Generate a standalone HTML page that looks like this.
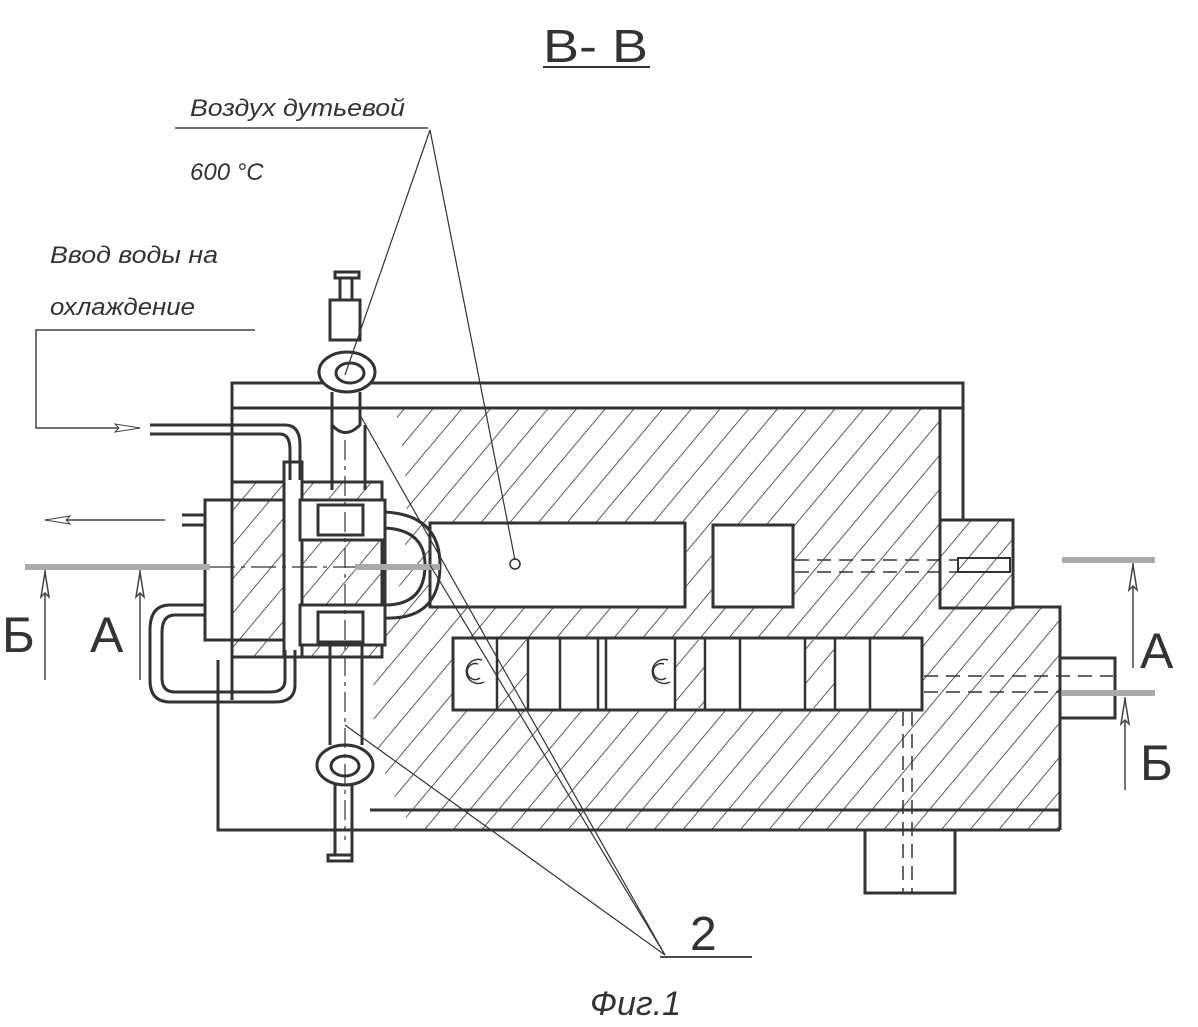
<!DOCTYPE html>
<html><head><meta charset="utf-8"><style>
html,body{margin:0;padding:0;background:#fff;}
svg{display:block;}
text{font-family:"Liberation Sans",sans-serif;fill:#333;}
</style></head><body>
<svg width="1198" height="1027" viewBox="0 0 1198 1027" xmlns="http://www.w3.org/2000/svg">
<defs>
<pattern id="h" patternUnits="userSpaceOnUse" width="22" height="22" patternTransform="rotate(40)">
<line x1="0" y1="0" x2="0" y2="22" stroke="#333" stroke-width="1.6"/>
</pattern>
</defs>
<rect width="1198" height="1027" fill="#fff"/>
<!-- title -->
<text x="543" y="62" font-size="46" textLength="105" lengthAdjust="spacingAndGlyphs">В- В</text>
<line x1="543" y1="67" x2="650" y2="67" stroke="#333" stroke-width="2"/>
<text x="190" y="116" font-size="24" font-style="italic" textLength="215" lengthAdjust="spacingAndGlyphs">Воздух дутьевой</text>
<line x1="175" y1="128" x2="428" y2="128" stroke="#444" stroke-width="1.5"/>
<text x="190" y="180" font-size="24" font-style="italic">600 °C</text>
<text x="50" y="263" font-size="24" font-style="italic" textLength="168" lengthAdjust="spacingAndGlyphs">Ввод воды на</text>
<text x="50" y="315" font-size="24" font-style="italic" textLength="145" lengthAdjust="spacingAndGlyphs">охлаждение</text>
<polyline points="255,330 36,330 36,428 140,428" fill="none" stroke="#444" stroke-width="1.5"/>
<path d="M140,428 l-25,-4 l4,4 l-4,4z" fill="#fff" stroke="#444"/>
<line x1="45" y1="520" x2="165" y2="520" stroke="#444" stroke-width="1.5"/>
<path d="M45,520 l25,-4 l-4,4 l4,4z" fill="#fff" stroke="#444"/>

<g stroke="#333" stroke-width="3" fill="none">
<path d="M395,408 L940,408 L940,520 L1013,520 L1013,607 L1060,607 L1060,830 L415,830 C385,790 360,720 380,650 C400,600 420,520 395,408Z" fill="url(#h)" stroke="none"/>
<polyline points="232,700 232,383 963,383 963,520"/>
<line x1="232" y1="408" x2="963" y2="408"/>
<line x1="940" y1="408" x2="940" y2="520"/>
<polyline points="218,660 218,830 1060,830"/>
<line x1="370" y1="810" x2="1060" y2="810"/>
<rect x="940" y="520" width="73" height="88"/>
<rect x="958" y="558" width="52" height="14" stroke-width="2"/>
<polyline points="1013,607 1060,607 1060,830"/>
<rect x="430" y="523" width="255" height="84" fill="#fff"/>
<rect x="713" y="525" width="80" height="82" fill="#fff"/>
<rect x="453" y="638" width="469" height="72" fill="#fff"/>
<g stroke-width="2.5">
<line x1="497" y1="638" x2="497" y2="710"/><line x1="528" y1="638" x2="528" y2="710"/>
<line x1="560" y1="638" x2="560" y2="710"/><line x1="598" y1="638" x2="598" y2="710"/>
<line x1="606" y1="638" x2="606" y2="710"/><line x1="675" y1="638" x2="675" y2="710"/>
<line x1="705" y1="638" x2="705" y2="710"/><line x1="740" y1="638" x2="740" y2="710"/>
<line x1="805" y1="638" x2="805" y2="710"/><line x1="835" y1="638" x2="835" y2="710"/>
<line x1="870" y1="638" x2="870" y2="710"/>
</g>
<rect x="1060" y="658" width="55" height="60"/>
<rect x="865" y="830" width="90" height="63"/>
</g>
<rect x="497" y="640" width="31" height="68" fill="url(#h)"/>
<rect x="675" y="640" width="30" height="68" fill="url(#h)"/>
<rect x="805" y="640" width="30" height="68" fill="url(#h)"/>
<g stroke="#333" stroke-width="1.5" fill="none">
<path d="M482,660 a12,12 0 1,0 2,22"/><path d="M478,664 a8,8 0 1,0 2,14"/>
<path d="M668,660 a12,12 0 1,0 2,22"/><path d="M664,664 a8,8 0 1,0 2,14"/>
<circle cx="515" cy="564" r="5"/>
<g stroke-dasharray="14,8">
<line x1="795" y1="560" x2="958" y2="560"/><line x1="795" y1="572" x2="958" y2="572"/>
<line x1="924" y1="676" x2="1113" y2="676"/><line x1="924" y1="692" x2="1060" y2="692"/>
<line x1="903" y1="712" x2="903" y2="893"/><line x1="912" y1="712" x2="912" y2="893"/>
</g>
</g>
<g stroke="#333" stroke-width="3" fill="none">
<rect x="330" y="300" width="30" height="40" fill="#fff"/>
<line x1="340" y1="278" x2="340" y2="300"/><line x1="352" y1="278" x2="352" y2="300"/>
<rect x="335" y="272" width="24" height="6" fill="#fff"/>
<ellipse cx="347" cy="372" rx="28" ry="20" fill="#fff"/>
<ellipse cx="350" cy="373" rx="14" ry="10"/>
<path d="M332,392 L332,425 Q345,440 360,425 L360,392"/>
<line x1="332" y1="425" x2="332" y2="490"/><line x1="365" y1="425" x2="365" y2="490"/>
<rect x="205" y="500" width="180" height="140" fill="#fff"/>
<rect x="232" y="482" width="150" height="175" fill="url(#h)"/>
<rect x="284" y="462" width="18" height="195" fill="#fff"/>
<rect x="300" y="500" width="85" height="40" fill="#fff"/>
<rect x="300" y="605" width="85" height="40" fill="#fff"/>
<rect x="318" y="505" width="45" height="30"/>
<rect x="318" y="612" width="45" height="30"/>
<path d="M385,512 Q440,515 440,565 Q440,620 385,618"/>
<path d="M385,528 Q425,530 425,565 Q425,605 385,605"/>
<path d="M150,425 L285,425 Q300,425 300,445 L300,480"/>
<path d="M150,434 L280,434 Q290,434 290,450 L290,480"/>
<path d="M205,605 L170,605 Q150,605 150,630 L150,680 Q150,702 170,702 L275,702 Q295,702 295,685 L295,650"/>
<path d="M205,615 L175,615 Q162,615 162,632 L162,678 Q162,692 175,692 L270,692 Q285,692 285,680 L285,650"/>
<line x1="182" y1="515" x2="205" y2="515"/><line x1="182" y1="525" x2="205" y2="525"/>
<line x1="330" y1="645" x2="330" y2="720"/><line x1="362" y1="645" x2="362" y2="720"/>
<path d="M330,720 L330,745 M362,720 L362,745"/>
<ellipse cx="345" cy="765" rx="28" ry="20" fill="#fff"/>
<ellipse cx="345" cy="766" rx="14" ry="10"/>
<line x1="335" y1="785" x2="335" y2="855"/><line x1="352" y1="785" x2="352" y2="855"/>
<rect x="328" y="855" width="24" height="6" fill="#fff"/>
</g>
<line x1="345" y1="440" x2="345" y2="840" stroke="#333" stroke-width="1.2" stroke-dasharray="20,6,4,6"/>
<g stroke="#aaa" stroke-width="6">
<line x1="25" y1="567" x2="210" y2="567"/>
<line x1="355" y1="567" x2="440" y2="567"/>
<line x1="1062" y1="560" x2="1155" y2="560"/>
<line x1="1062" y1="693" x2="1155" y2="693"/>
</g>
<line x1="210" y1="567" x2="355" y2="567" stroke="#333" stroke-width="1.2" stroke-dasharray="25,6,4,6"/>
<g stroke="#444" stroke-width="1.5" fill="#fff">
<line x1="45" y1="570" x2="45" y2="680"/><path d="M45,572 l-4,25 l4,-4 l4,4z"/>
<line x1="140" y1="570" x2="140" y2="680"/><path d="M140,572 l-4,25 l4,-4 l4,4z"/>
<line x1="1133" y1="563" x2="1133" y2="668"/><path d="M1133,565 l-4,25 l4,-4 l4,4z"/>
<line x1="1125" y1="697" x2="1125" y2="790"/><path d="M1125,699 l-4,25 l4,-4 l4,4z"/>
</g>
<text x="2" y="652" font-size="50">Б</text>
<text x="90" y="652" font-size="50">А</text>
<text x="1140" y="668" font-size="50">А</text>
<text x="1140" y="780" font-size="50">Б</text>
<g stroke="#333" stroke-width="1.2">
<line x1="430" y1="130" x2="345" y2="375"/>
<line x1="430" y1="130" x2="515" y2="560"/>
<line x1="665" y1="955" x2="360" y2="415"/>
<line x1="665" y1="955" x2="345" y2="725"/>
<line x1="665" y1="955" x2="430" y2="565"/>
<line x1="660" y1="957" x2="752" y2="957" stroke-width="1.8"/>
</g>
<text x="690" y="950" font-size="48">2</text>
<text x="590" y="1015" font-size="34" font-style="italic">Фиг.1</text>
</svg>
</body></html>
